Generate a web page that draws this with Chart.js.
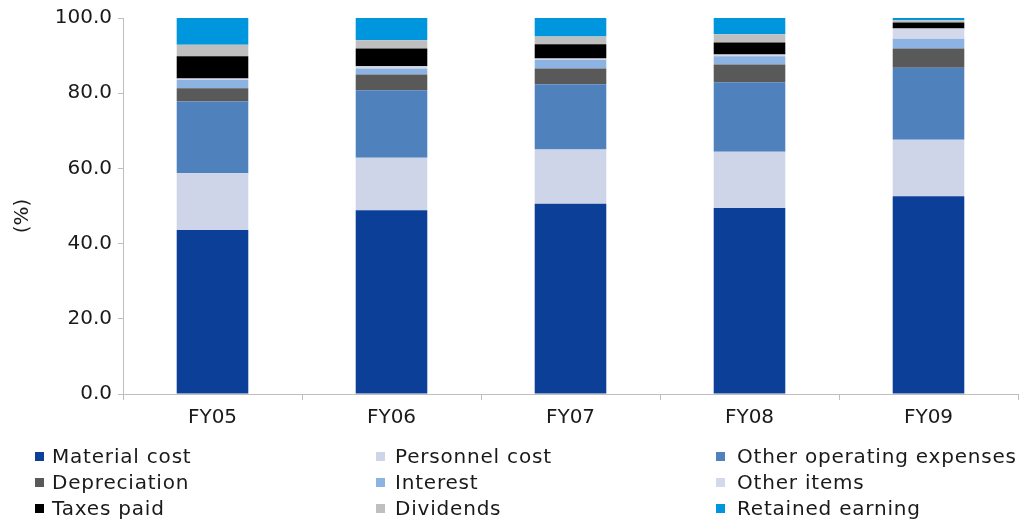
<!DOCTYPE html>
<html>
<head>
<meta charset="utf-8">
<script src="https://cdn.jsdelivr.net/npm/chart.js@4.4.0/dist/chart.umd.min.js"></script>
<style>
  html, body { margin: 0; padding: 0; background: #ffffff; }
  #wrap { width: 1032px; height: 523px; position: relative; }
</style>
</head>
<body>
<div id="wrap"><canvas id="chart" width="1032" height="523"></canvas></div>
<script>
// Cost structure as a share of revenue, FY05-FY09 (%)
const categories = ['FY05', 'FY06', 'FY07', 'FY08', 'FY09'];

const materialCost      = [43.6, 48.9, 50.6, 49.5, 52.6];
const personnelCost     = [15.1, 13.9, 14.4, 14.9, 15.0];
const otherOperatingExp = [19.1, 18.0, 17.4, 18.5, 19.2];
const depreciation      = [3.5, 4.2, 4.2, 4.7, 5.1];
const interest          = [2.2, 1.6, 2.2, 2.2, 2.6];
const otherItems        = [0.4, 0.6, 0.4, 0.5, 2.7];
const taxesPaid         = [5.9, 4.7, 3.8, 3.2, 1.6];
const dividends         = [3.1, 2.2, 2.1, 2.2, 0.6];
const retainedEarning   = [7.1, 5.9, 4.9, 4.3, 0.6];

const yTicks = [0, 20, 40, 60, 80, 100];

const seriesNames = ['Material cost', 'Personnel cost', 'Other operating expenses',
  'Depreciation', 'Interest', 'Other items', 'Taxes paid', 'Dividends', 'Retained earning'];
const seriesValues = [materialCost, personnelCost, otherOperatingExp, depreciation,
  interest, otherItems, taxesPaid, dividends, retainedEarning];
const seriesColors = ['#0C4098', '#CFD5E8', '#4F81BD', '#595959', '#8DB3E2',
  '#D3D8EA', '#000000', '#BFBFBF', '#0096DD'];

const FONT = '"DejaVu Sans", Verdana, sans-serif';
const AXIS_GREY = '#BEBEBE';

// Three-column legend and rotated unit label drawn onto the canvas
const extrasPlugin = {
  id: 'extras',
  afterDraw(chart) {
    const ctx = chart.ctx;
    ctx.save();
    // unit label
    ctx.translate(23, 216);
    ctx.rotate(-Math.PI / 2);
    ctx.fillStyle = '#1a1a1a';
    ctx.font = '20px ' + FONT;
    ctx.textAlign = 'center';
    ctx.textBaseline = 'middle';
    ctx.fillText('(%)', 0, 0);
    ctx.restore();

    ctx.save();
    const colBox = [35, 376, 716];
    const colText = [52, 395, 737];
    const rowY = [457, 483, 509];
    ctx.font = '20px ' + FONT;
    ctx.textBaseline = 'middle';
    ctx.textAlign = 'left';
    if ('letterSpacing' in ctx) ctx.letterSpacing = '0.8px';
    seriesNames.forEach((name, i) => {
      const col = i % 3, row = Math.floor(i / 3);
      ctx.fillStyle = seriesColors[i];
      ctx.fillRect(colBox[col], rowY[row] - 5, 9, 9);
      ctx.fillStyle = '#1a1a1a';
      ctx.fillText(name, colText[col], rowY[row] + 1);
    });
    ctx.restore();
  }
};

new Chart(document.getElementById('chart'), {
  type: 'bar',
  data: {
    labels: categories,
    datasets: seriesNames.map((name, i) => ({
      label: name,
      data: seriesValues[i],
      backgroundColor: seriesColors[i],
      borderWidth: 0,
      barPercentage: 0.8,
      categoryPercentage: 0.5
    }))
  },
  options: {
    responsive: false,
    animation: false,
    layout: { padding: { top: 15, right: 14, left: 0, bottom: 0 } },
    plugins: {
      legend: { display: false },
      tooltip: { enabled: false }
    },
    scales: {
      x: {
        stacked: true,
        grid: {
          offset: true,
          drawOnChartArea: false,
          drawTicks: true,
          tickLength: 6,
          color: AXIS_GREY
        },
        border: { color: AXIS_GREY, width: 1 },
        ticks: {
          color: '#1a1a1a',
          font: { family: FONT, size: 20 },
          padding: 6
        },
        afterFit(scale) { scale.height = 129; }
      },
      y: {
        stacked: true,
        min: 0,
        max: 100,
        afterBuildTicks(scale) { scale.ticks = yTicks.map(v => ({ value: v })); },
        grid: {
          drawOnChartArea: false,
          drawTicks: true,
          tickLength: 5,
          color: AXIS_GREY
        },
        border: { color: AXIS_GREY, width: 1 },
        ticks: {
          color: '#1a1a1a',
          font: { family: FONT, size: 20 },
          padding: 6,
          callback: v => Number(v).toFixed(1)
        },
        afterFit(scale) { scale.width = 123; }
      }
    }
  },
  plugins: [extrasPlugin]
});
</script>
</body>
</html>
